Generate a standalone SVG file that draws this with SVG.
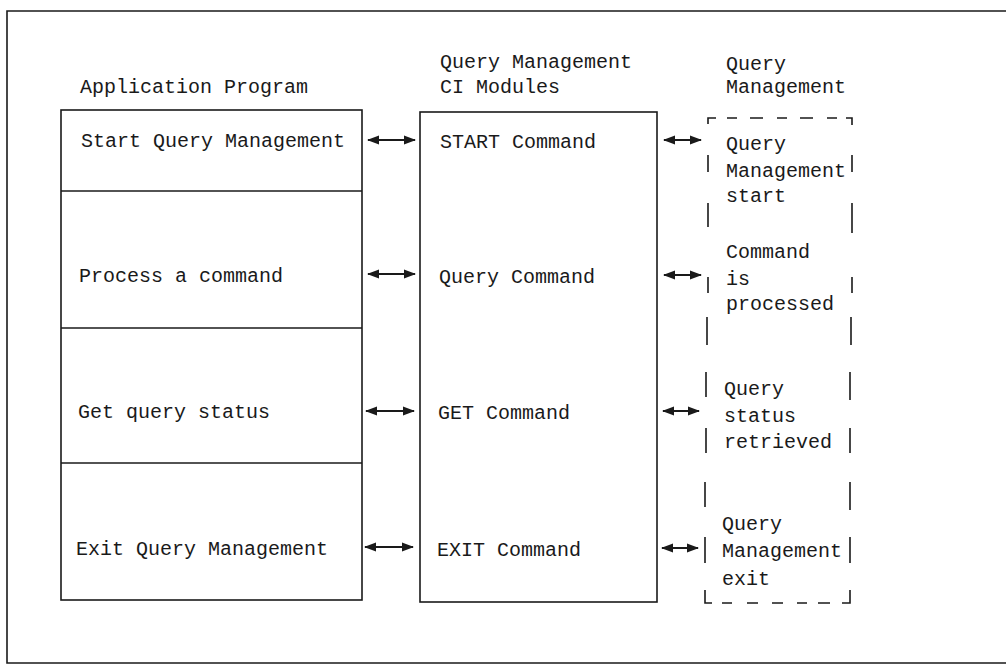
<svg xmlns="http://www.w3.org/2000/svg" width="1006" height="665" viewBox="0 0 1006 665">
<style>
text{font-family:"Liberation Mono","DejaVu Sans Mono",monospace;font-size:20px;fill:#1a1a1a}
.box{fill:none;stroke:#1a1a1a;stroke-width:1.6}
.dash{fill:none;stroke:#1a1a1a;stroke-width:1.6}
.conn{stroke:#1a1a1a;stroke-width:1.8;marker-start:url(#ah);marker-end:url(#ah)}
</style>
<defs>
<marker id="ah" viewBox="0 0 12 10" refX="11" refY="5" markerWidth="12" markerHeight="10" orient="auto-start-reverse" markerUnits="userSpaceOnUse">
<path d="M0,0.5 L12,5 L0,9.5 Z" fill="#1a1a1a"/>
</marker>
</defs>
<rect width="1006" height="665" fill="#ffffff"/>
<g id="frame">
<path d="M1006,11 L7,11 L7,663 L1006,663" class="box"/>
</g>
<g id="headers">
<text x="80" y="93">Application Program</text>
<text x="440" y="68">Query Management</text>
<text x="440" y="93">CI Modules</text>
<text x="726" y="70">Query</text>
<text x="726" y="93">Management</text>
</g>
<g id="app-program">
<rect x="61" y="110" width="301" height="490" class="box"/>
<line x1="61" y1="191" x2="362" y2="191" class="box"/>
<line x1="61" y1="328" x2="362" y2="328" class="box"/>
<line x1="61" y1="463" x2="362" y2="463" class="box"/>
<g id="app-start"><text x="81" y="147">Start Query Management</text></g>
<g id="app-process"><text x="79" y="282">Process a command</text></g>
<g id="app-get"><text x="78" y="418">Get query status</text></g>
<g id="app-exit"><text x="76" y="555">Exit Query Management</text></g>
</g>
<g id="ci-modules">
<rect x="420" y="112" width="237" height="490" class="box"/>
<g id="ci-start"><text x="440" y="148">START Command</text></g>
<g id="ci-query"><text x="439" y="283">Query Command</text></g>
<g id="ci-get"><text x="438" y="419">GET Command</text></g>
<g id="ci-exit"><text x="437" y="556">EXIT Command</text></g>
</g>
<g id="query-management">
<path class="dash" d="M708,124 L708,118 L716,118 M727,118 L737,118 M750,118 L763,118 M777,118 L787,118 M800,118 L813,118 M827,118 L837,118 M846,118 L852,118 L852,125
M708,155 L708,172 M708,203 L708,227 M708,277 L708,293 M707,317 L707,345 M706,372 L706,397 M706,428 L706,453 M705,482 L705,507 M705,537 L705,563 M705,590 L705,603 L712,603
M722,603 L732,603 M747,603 L758,603 M772,603 L783,603 M797,603 L807,603 M818,603 L830,603 M842,603 L850,603 L850,590
M852,155 L852,172 M852,203 L852,233 M852,277 L852,293 M851,317 L851,345 M850,372 L850,400 M850,428 L850,453 M850,482 L850,510 M850,537 L850,563"/>
<g id="qm-start"><text x="726" y="150">Query</text><text x="726" y="177">Management</text><text x="726" y="202">start</text></g>
<g id="qm-process"><text x="726" y="258">Command</text><text x="726" y="285">is</text><text x="726" y="310">processed</text></g>
<g id="qm-status"><text x="724" y="395">Query</text><text x="724" y="422">status</text><text x="724" y="448">retrieved</text></g>
<g id="qm-exit"><text x="722" y="530">Query</text><text x="722" y="557">Management</text><text x="722" y="585">exit</text></g>
</g>
<g id="connectors">
<line class="conn" x1="368" y1="140" x2="415" y2="140"/>
<line class="conn" x1="368" y1="274" x2="415" y2="274"/>
<line class="conn" x1="366" y1="411" x2="414" y2="411"/>
<line class="conn" x1="365" y1="547" x2="413" y2="547"/>
<line class="conn" x1="664" y1="140" x2="701" y2="140"/>
<line class="conn" x1="664" y1="275" x2="701" y2="275"/>
<line class="conn" x1="663" y1="411" x2="699" y2="411"/>
<line class="conn" x1="662" y1="548" x2="698" y2="548"/>
</g>
</svg>
